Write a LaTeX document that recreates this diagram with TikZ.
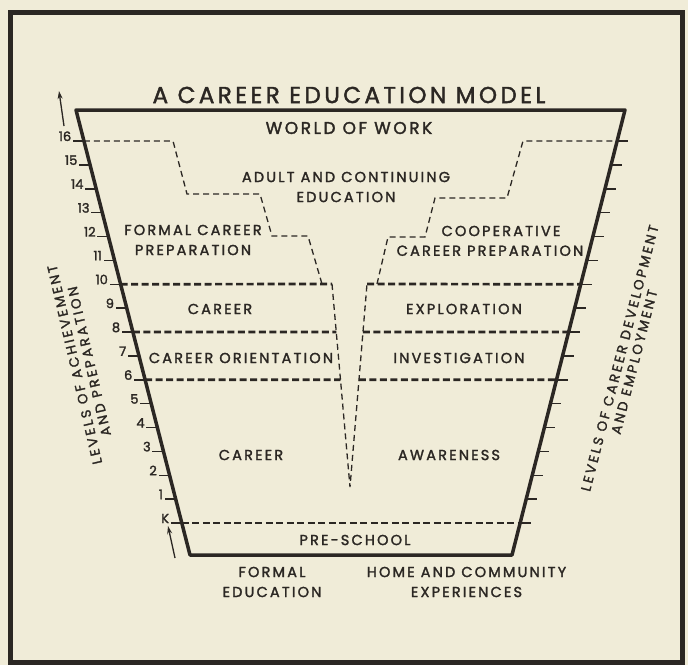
\documentclass[tikz,border=0pt]{standalone}
\usepackage{fontspec}
\setmainfont{Poppins}[LetterSpace=15, FakeBold=1.8]
\usetikzlibrary{positioning,calc,arrows.meta}

\definecolor{paper}{HTML}{F0ECD8}
\definecolor{ink}{HTML}{2B2723}

\begin{document}
\begin{tikzpicture}[
  x=1pt, y=-1pt,
  every node/.style={text=ink, inner sep=0pt},
  boxtext/.style={font=\fontsize{14.5}{20}\selectfont, align=center},
  sidetext/.style={font=\fontsize{13.5}{15}\selectfont\addfontfeature{LetterSpace=19}, align=center},
  gradetext/.style={font=\fontsize{13}{13}\selectfont\addfontfeature{LetterSpace=0}},
  outline/.style={draw=ink, line width=3.5pt, line join=round},
  levelline/.style={draw=ink, line width=2.7pt, dash pattern=on 7pt off 3.5pt},
  stepline/.style={draw=ink, line width=1.3pt, dash pattern=on 6pt off 4pt},
  scalemark/.style={draw=ink, line width=1.5pt},
  rise/.style={draw=ink, line width=1.3pt, -{Stealth[length=8pt,width=5pt]}}
]

    \fill[paper] (0,0) rectangle (688,665);
    \useasboundingbox (0,0) rectangle (688,665);
    \draw[ink, line width=5pt] (10,12) rectangle (682,662);

    % the funnel
    \coordinate (TL) at (76,110);
    \coordinate (TR) at (625,110);
    \coordinate (BR) at (512,555);
    \coordinate (BL) at (190,555);
    \draw[outline] (TL) -- (TR) -- (BR) -- (BL) -- cycle;

    % grade levels K..16 on both sides
    \foreach \i in {0,...,16}{
        \pgfmathsetmacro{\t}{(413-23.875*\i)/445}
        \coordinate (L\i) at ($(TL)!\t!(BL)$);
        \coordinate (R\i) at ($(TR)!\t!(BR)$);
        \draw[scalemark] (L\i) -- ++(-11,0)
            node[gradetext, anchor=base east, inner sep=1pt]
            {\ifnum\i=0 K\else\i\fi};
        \draw[scalemark] (R\i) -- ++(11,0);
    }

    % the split in the middle
    \coordinate (VL) at (332,284);
    \coordinate (VR) at (367,284);
    \coordinate (VT) at (350,487);
    \coordinate (VL8) at ($(VL)!0.236!(VT)$);
    \coordinate (VR8) at ($(VR)!0.236!(VT)$);
    \coordinate (VL6) at ($(VL)!0.472!(VT)$);
    \coordinate (VR6) at ($(VR)!0.472!(VT)$);
    \draw[stepline] (VL) -- (VT) -- (VR);

    \draw[levelline] (L10) -- (VL);
    \draw[levelline] (VR) -- (R10);
    \draw[levelline] (L8) -- (VL8);
    \draw[levelline] (VR8) -- (R8);
    \draw[levelline] (L6) -- (VL6);
    \draw[levelline] (VR6) -- (R6);
    \draw[levelline] (L0) -- (R0);

    % steps of the upper levels
    \draw[stepline] (L16) -- (173,141) -- (187,194) -- (260,194)
        -- (272,236) -- (308,236) -- (322,284);
    \draw[stepline] (377,284) -- (388,237) -- (425,237) -- (435,198)
        -- (507,198) -- (523,141) -- (R16);

    \draw[rise] (64,126) -- (59,91);
    \draw[rise] (175,558) -- (168,526);

    \node[font=\fontsize{23}{23}\selectfont] (title) at (349,95) {A CAREER EDUCATION MODEL};
    \node[font=\fontsize{17}{17}\selectfont] (work) at (349,128) {WORLD OF WORK};

    \node[boxtext] (adult) at (346,187) {ADULT AND CONTINUING\\EDUCATION};
    \node[boxtext] (formal) at (193,240) {FORMAL CAREER\\PREPARATION};
    \node[boxtext] (coop) at (501,231) {COOPERATIVE};
    \node[boxtext, below=9pt of coop, xshift=-11pt] (coopprep) {CAREER PREPARATION};
    \node[boxtext] (career) at (220,309) {CAREER};
    \node[boxtext] (explore) at (464,309) {EXPLORATION};
    \node[boxtext] (orient) at (241,358) {CAREER ORIENTATION};
    \node[boxtext] (invest) at (459,358) {INVESTIGATION};
    \node[boxtext] (career2) at (251,455) {CAREER};
    \node[boxtext] (aware) at (449,455) {AWARENESS};
    \node[boxtext] (preschool) at (355,540) {PRE-SCHOOL};

    \node[boxtext] (formaled) at (272,582) {FORMAL\\EDUCATION};
    \node[boxtext, right=45pt of formaled] (home) {HOME AND COMMUNITY\\EXPERIENCES};

    \node[sidetext, rotate=103] (achieve) at (82,363) {LEVELS OF ACHIEVEMENT\\AND PREPARATION};
    \node[sidetext, rotate=75.5] (develop) at (627,360) {LEVELS OF CAREER DEVELOPMENT\\AND EMPLOYMENT};
\end{tikzpicture}
\end{document}
